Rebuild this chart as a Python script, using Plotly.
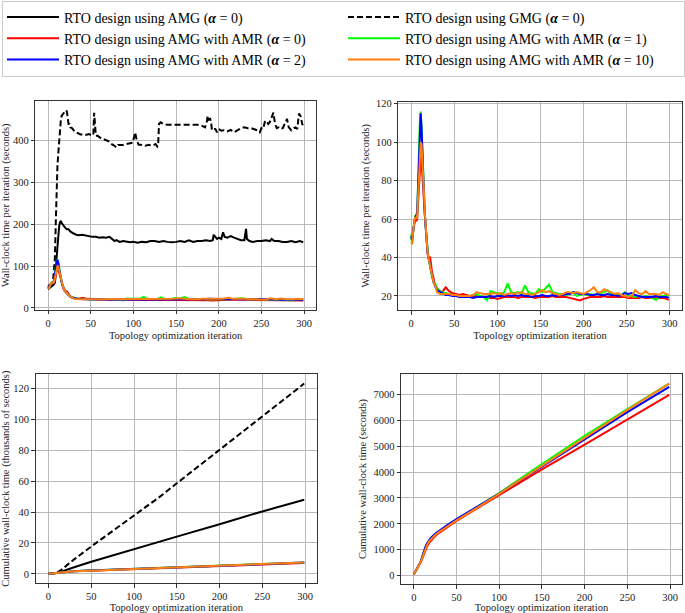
import plotly.graph_objects as go

W, H = 685, 613
FONT = "Liberation Serif"

# ---------------- data: per-iteration wall-clock time (seconds) ----------------
# AMG (alpha=0), solid black
amg_it = [0, 2, 4, 6, 8, 9, 10, 11, 12, 13, 14, 15, 16, 17, 18, 20, 22, 24, 26, 28, 30, 33, 36, 40, 44, 48,
          52, 56, 60, 64, 68, 72, 75, 78, 80, 84, 88, 92, 96, 100, 105, 110, 115, 120, 125, 130, 135, 140,
          145, 150, 155, 160, 165, 170, 175, 180, 185, 190, 193, 194, 196, 198, 200, 203, 205, 207, 210,
          214, 218, 222, 226, 230, 232, 233, 236, 240, 245, 250, 255, 260, 262, 265, 270, 275, 280, 285,
          290, 295, 299]
amg_t = [45, 48, 52, 55, 60, 80, 120, 150, 175, 195, 205, 208, 203, 200, 195, 192, 188, 188, 183, 180, 178,
         175, 174, 175, 173, 172, 170, 170, 168, 169, 168, 170, 165, 160, 162, 158, 160, 158, 157, 158, 156,
         158, 157, 160, 160, 158, 160, 158, 157, 158, 160, 158, 162, 158, 160, 160, 162, 160, 162, 175, 170,
         165, 168, 165, 181, 170, 168, 172, 168, 165, 162, 162, 189, 165, 160, 158, 160, 160, 162, 160, 165,
         160, 160, 158, 158, 160, 157, 160, 157]

# GMG (alpha=0), dashed black
gmg_it = [0, 2, 4, 6, 8, 9, 10, 11, 12, 13, 14, 15, 16, 17, 18, 20, 21, 22, 23, 24, 25, 26, 28, 30, 32, 35,
          38, 40, 44, 48, 50, 53, 54, 55, 56, 58, 60, 63, 66, 70, 72, 75, 78, 80, 82, 85, 88, 92, 96, 99,
          101, 102, 104, 106, 110, 114, 118, 122, 126, 128, 129, 130, 132, 135, 140, 145, 150, 155, 160,
          165, 170, 175, 180, 184, 186, 187, 188, 190, 191, 192, 194, 196, 198, 200, 203, 206, 210, 214,
          218, 222, 226, 230, 234, 238, 242, 245, 248, 250, 252, 254, 256, 258, 260, 262, 264, 266, 268,
          270, 272, 275, 278, 280, 282, 285, 288, 290, 292, 294, 296, 298, 299]
gmg_t = [52, 55, 58, 70, 120, 200, 280, 340, 370, 400, 430, 450, 460, 462, 465, 470, 473, 470, 455, 440,
         440, 432, 430, 425, 420, 418, 415, 415, 414, 416, 414, 413, 467, 440, 412, 412, 408, 404, 403, 400,
         398, 391, 388, 384, 390, 390, 390, 392, 393, 395, 410, 420, 400, 391, 390, 388, 390, 388, 392, 386,
         390, 440, 444, 440, 438, 438, 438, 438, 438, 437, 437, 438, 436, 432, 445, 460, 450, 452, 445, 425,
         428, 428, 420, 428, 424, 425, 422, 426, 420, 425, 430, 432, 430, 430, 428, 425, 420, 430, 428, 445,
         448, 440, 445, 455, 467, 440, 430, 432, 428, 430, 445, 452, 432, 425, 430, 432, 428, 465, 458, 438,
         440]

# AMR series: early iterations, then every 4 iterations
amr_it = [0, 1, 2, 3, 4, 5, 6, 7, 8, 9, 10, 11, 12, 13, 14, 15, 16, 17, 18, 19, 20, 22, 24, 26, 28, 30, 32,
          34, 36, 38] + list(range(40, 297, 4)) + [299]

amr0_t = [48, 48, 53, 57, 59, 60, 59, 60, 68, 80, 88, 92, 90, 85, 76, 68, 60, 52, 46, 42, 40, 40, 33, 28, 25,
          24, 23, 22, 22, 23,
          24.5, 22.5, 21.5, 21, 20.5, 21, 20.5, 20, 20, 20, 19.5, 19.5, 19.5, 19, 19, 18.5, 19, 19.5, 19.5,
          19.5, 19.5, 19, 19.5, 19.5, 19.5, 19.5, 19, 19.5, 19.5, 19.5, 19.5, 20, 19.5, 19.5, 19.5, 19.5, 19,
          18.5, 18, 17.7, 18.5, 19, 19.5, 19.5, 19.5, 19.5, 20, 19.5, 19.5, 19.5, 19.5, 19.5, 19.5, 19, 19,
          19, 19, 19.5, 19, 19, 19.5, 19, 19, 19, 18.5, 18]
amr1_t = [52, 47, 52, 57, 60, 62, 61, 63, 75, 95, 110, 116, 108, 95, 82, 72, 62, 55, 48, 43, 40, 35, 30,
          27.5, 26.5, 24, 23, 22.5, 22, 21.5,
          21.5, 21, 20.5, 20, 20, 19.5, 20, 20, 20.5, 21, 20, 19.5, 17.8, 22.5, 22, 21.5, 21, 22, 26.5, 22,
          21.5, 22, 21, 25.5, 22, 21.5, 21, 23.5, 22, 24, 26, 22, 21.5, 21, 21, 20.5, 21, 21.5, 20, 20.5,
          21, 20.5, 21, 20.5, 21, 21.5, 22, 23, 21, 20.5, 21, 20.5, 22, 20, 20, 19.5, 20, 19.5, 20, 19.5,
          19, 18, 19.5, 20, 20.5, 20]
amr2_t = [51, 49, 53, 57, 59, 61, 62, 64, 78, 98, 110, 115, 108, 93, 80, 70, 61, 53, 47, 43, 40, 35, 30, 27,
          25, 23, 22.5, 22, 21.5, 21,
          20.5, 20.5, 20, 20, 19.5, 19.5, 19.5, 19.5, 19, 19.5, 19.5, 19.5, 19.5, 20, 19.5, 20, 20, 20,
          20.5, 20, 20.5, 20, 20.5, 20, 20, 19.5, 20, 20, 20.5, 20, 20, 20.5, 20, 20.5, 20.5, 21, 21, 22,
          21.5, 21, 21, 21, 20.5, 20.5, 21, 20.5, 20.5, 21, 20.5, 20.5, 20, 20.5, 21.5, 21, 21.5, 20.5, 20,
          19.5, 19.5, 19.5, 19.5, 20, 19.5, 19.5, 19.5, 19]
amr10_t = [48, 47, 52, 57, 60, 61, 60, 62, 72, 86, 96, 100, 99, 92, 82, 72, 62, 54, 48, 43, 40, 35, 30, 27,
           25.5, 22, 21.5, 21, 21, 21,
           21, 21, 20.5, 20.5, 20, 20, 20, 20, 20.5, 22, 21.5, 21, 21, 21, 21.5, 21, 21.5, 20.5, 21, 21.5,
           21, 21.5, 22, 21, 21, 20.5, 21, 22, 23, 22, 22.5, 21.5, 21, 20.5, 21, 22, 22, 21.5, 22, 21.5, 21,
           22, 23, 24.5, 22, 22, 23.5, 22.5, 22, 21, 21.5, 20.5, 20, 19.5, 20, 23, 21.5, 21, 22.5, 21, 21,
           21, 20.5, 22, 21, 20.5]

# ---------------- data: cumulative wall-clock time ----------------
cum_blk_it = [0, 5, 10, 15, 20, 30, 50, 100, 130, 150, 200, 250, 299]
cum_amg_k = [0.045, 0.28, 0.6, 1.45, 2.45, 4.3, 7.8, 16.2, 20.9, 24.1, 32.1, 40.4, 47.9]      # thousands s
cum_gmg_k = [0.05, 0.33, 0.8, 2.6, 4.9, 9.4, 17.7, 38.0, 49.8, 58.6, 80.4, 101.8, 123.1]     # thousands s

cum_amr_it = [0, 4, 8, 10, 12, 14, 16, 18, 20, 25, 30, 40, 50, 75, 100, 150, 200, 250, 299]
cum_amr0 = [48, 265, 505, 670, 850, 1020, 1160, 1265, 1350, 1530, 1665, 1890, 2110, 2620, 3120, 4100, 5060,
            6040, 6975]
cum_amr1 = [52, 270, 530, 735, 960, 1125, 1260, 1365, 1445, 1600, 1725, 1950, 2160, 2660, 3190, 4310, 5400,
            6430, 7415]
cum_amr2 = [51, 270, 535, 745, 970, 1140, 1275, 1380, 1460, 1615, 1745, 1975, 2185, 2670, 3170, 4210, 5250,
            6310, 7285]
cum_amr10 = [48, 265, 515, 700, 900, 1080, 1220, 1330, 1410, 1570, 1695, 1925, 2135, 2640, 3160, 4240,
             5320, 6400, 7410]

names = {
    "amg": "RTO design using AMG (<b><i>α</i></b> = 0)",
    "gmg": "RTO design using GMG (<b><i>α</i></b> = 0)",
    "amr0": "RTO design using AMG with AMR (<b><i>α</i></b> = 0)",
    "amr1": "RTO design using AMG with AMR (<b><i>α</i></b> = 1)",
    "amr2": "RTO design using AMG with AMR (<b><i>α</i></b> = 2)",
    "amr10": "RTO design using AMG with AMR (<b><i>α</i></b> = 10)",
}
colors = {"amg": "black", "gmg": "black", "amr0": "#ff0000", "amr1": "#00ff00", "amr2": "#0000ff",
          "amr10": "#ff7f0e"}
dashes = {"amg": "solid", "gmg": "6px,3px"}

LW = 2
fig = go.Figure()


def add(key, x, y, ax, show=False):
    fig.add_trace(go.Scatter(
        x=x, y=y, mode="lines", name=names[key], legendgroup=key, showlegend=show,
        line=dict(color=colors[key], width=LW, dash=dashes.get(key, "solid")),
        xaxis="x" + ax, yaxis="y" + ax))


# legend order (row-major): AMG, GMG / AMR0, AMR1 / AMR2, AMR10
add("amg", amg_it, amg_t, "", True)
add("gmg", gmg_it, gmg_t, "", True)
add("amr0", amr_it, amr0_t, "", True)
add("amr1", amr_it, amr1_t, "", True)
add("amr2", amr_it, amr2_t, "", True)
add("amr10", amr_it, amr10_t, "", True)

for k, t in [("amr0", amr0_t), ("amr1", amr1_t), ("amr2", amr2_t), ("amr10", amr10_t)]:
    add(k, amr_it, t, "2")

add("amg", cum_blk_it, cum_amg_k, "3")
add("gmg", cum_blk_it, cum_gmg_k, "3")
for k, c in [("amr0", cum_amr0), ("amr1", cum_amr1), ("amr2", cum_amr2), ("amr10", cum_amr10)]:
    add(k, cum_amr_it, [v / 1000 for v in c], "3")
for k, c in [("amr0", cum_amr0), ("amr1", cum_amr1), ("amr2", cum_amr2), ("amr10", cum_amr10)]:
    add(k, cum_amr_it, c, "4")


def dx(a, b):
    return [a / W, b / W]


def dy(top, bottom):
    return [1 - bottom / H, 1 - top / H]


tickfont = dict(family=FONT, size=10.5, color="#222")
titlefont = dict(family=FONT, size=10.5, color="#222")
common = dict(showline=True, mirror=True, linecolor="#333", linewidth=1, ticks="outside", ticklen=3.5,
              tickwidth=0.8, tickcolor="#333", showgrid=True, gridcolor="#b8b8b8", gridwidth=0.8,
              zeroline=False, tickfont=tickfont, automargin=False)

xt = dict(tickvals=[0, 50, 100, 150, 200, 250, 300], range=[-14.95, 313.95],
          title=dict(text="Topology optimization iteration", font=titlefont, standoff=3))

layout = dict(
    width=W, height=H, margin=dict(l=0, r=0, t=0, b=0), plot_bgcolor="white", paper_bgcolor="white",
    font=dict(family=FONT, color="#222"),
    xaxis=dict(domain=dx(35.3, 316), anchor="y", **xt, **common),
    yaxis=dict(domain=dy(101, 309.6), anchor="x", range=[-4, 495], tickvals=[0, 100, 200, 300, 400],
               title=dict(text="Wall-clock time per iteration (seconds)", font=titlefont, standoff=4),
               **common),
    xaxis2=dict(domain=dx(398.3, 681.7), anchor="y2", **xt, **common),
    yaxis2=dict(domain=dy(101.5, 310), anchor="x2", range=[12.7, 121.2], tickvals=[20, 40, 60, 80, 100, 120],
                title=dict(text="Wall-clock time per iteration (seconds)", font=titlefont, standoff=4),
                **common),
    xaxis3=dict(domain=dx(35.7, 317), anchor="y3", **xt, **common),
    yaxis3=dict(domain=dy(374, 583.3), anchor="x3", range=[-6.1, 129.3], tickvals=[0, 20, 40, 60, 80, 100, 120],
                title=dict(text="Cumulative wall-clock time (thousands of seconds)", font=titlefont, standoff=4),
                **common),
    xaxis4=dict(domain=dx(401, 682), anchor="y4", **xt, **common),
    yaxis4=dict(domain=dy(374, 584), anchor="x4", range=[-320, 7783],
                tickvals=[0, 1000, 2000, 3000, 4000, 5000, 6000, 7000],
                title=dict(text="Cumulative wall-clock time (seconds)", font=titlefont, standoff=4),
                **common),
    legend=dict(orientation="h", x=21 / W, y=1 - 0.5 / H, xanchor="left", yanchor="top",
                entrywidth=274, entrywidthmode="pixels", itemwidth=52, tracegroupgap=0,
                bordercolor="#cccccc", borderwidth=1, bgcolor="white",
                font=dict(family=FONT, size=14, color="black")),
)
fig.update_layout(**layout)
fig.write_html("out.html", config={"displayModeBar": False},
               post_script="document.body.style.margin='0px';document.body.style.padding='0px';")
